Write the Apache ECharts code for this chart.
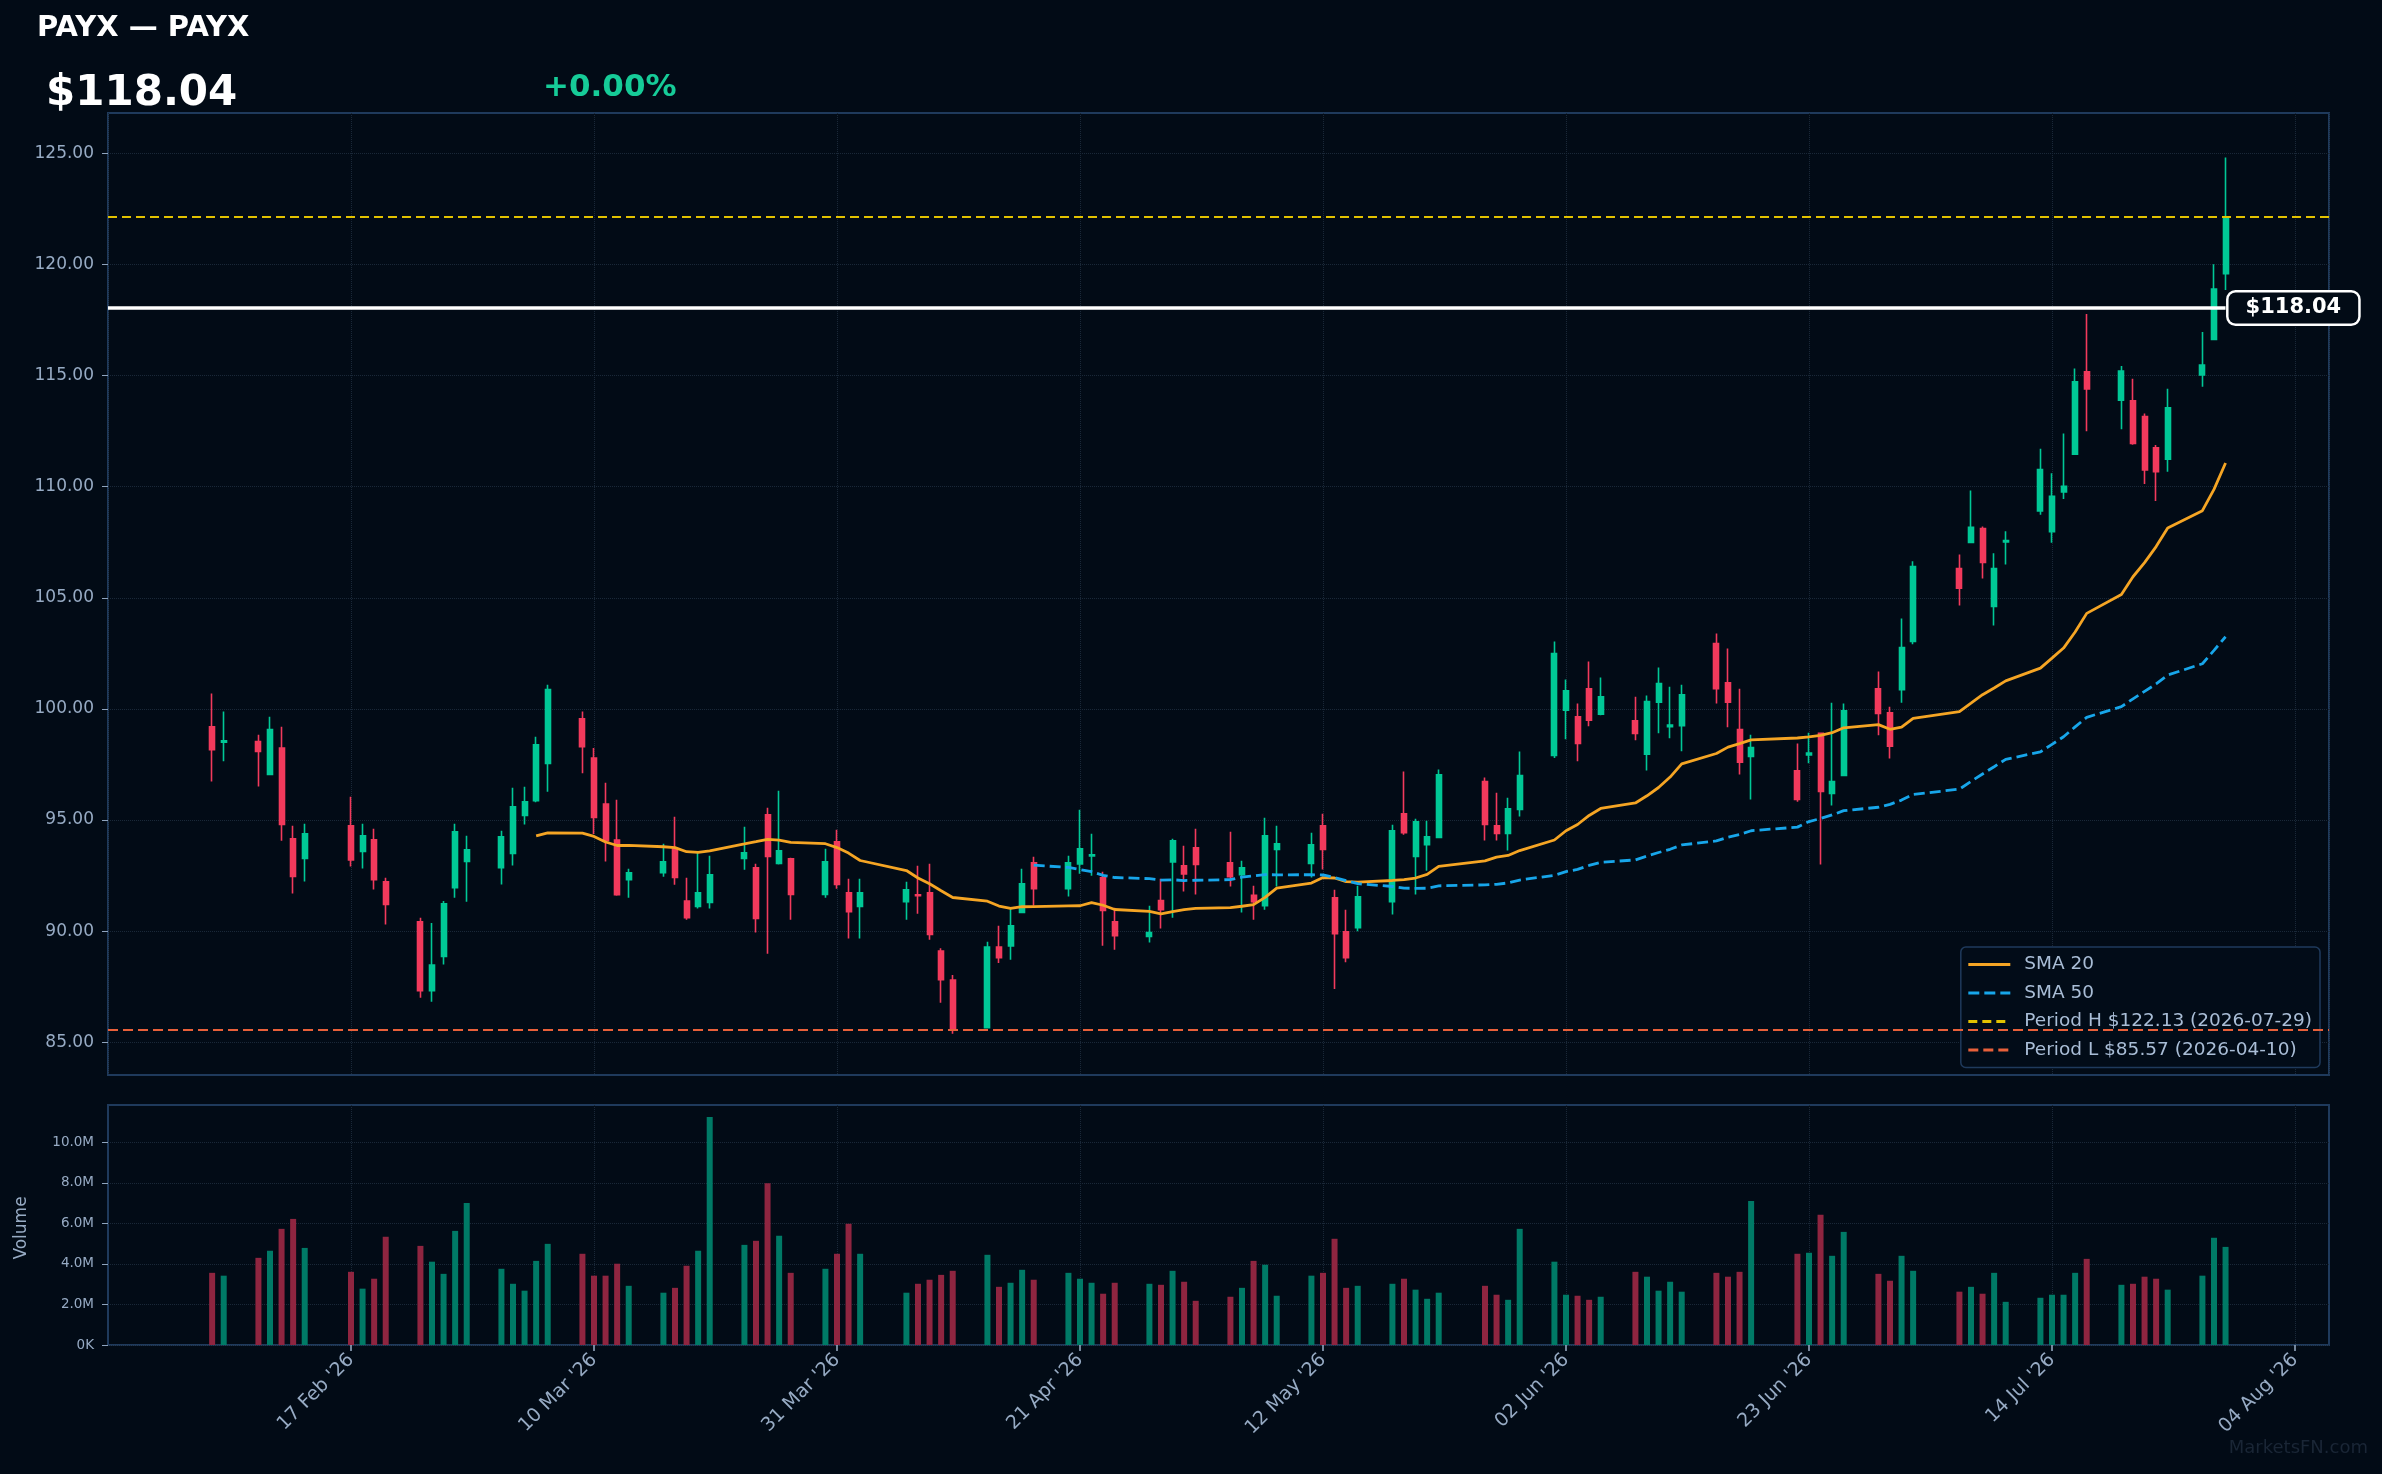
<!DOCTYPE html>
<html><head><meta charset="utf-8">
<script src="https://cdn.jsdelivr.net/npm/echarts@6/dist/echarts.min.js"></script>
<style>html,body{margin:0;padding:0;background:#020b16;} #c{width:2382px;height:1474px;}</style>
</head><body><div id="c"></div>
<script>
// ---------------- DATA ----------------
const ticker = 'PAYX';
const companyName = 'PAYX';
const lastPrice = 118.04;
const changeText = '+0.00%';
const dates = [
'2026-02-05','2026-02-06','2026-02-09','2026-02-10','2026-02-11','2026-02-12','2026-02-13','2026-02-17','2026-02-18','2026-02-19',
'2026-02-20','2026-02-23','2026-02-24','2026-02-25','2026-02-26','2026-02-27','2026-03-02','2026-03-03','2026-03-04','2026-03-05',
'2026-03-06','2026-03-09','2026-03-10','2026-03-11','2026-03-12','2026-03-13','2026-03-16','2026-03-17','2026-03-18','2026-03-19',
'2026-03-20','2026-03-23','2026-03-24','2026-03-25','2026-03-26','2026-03-27','2026-03-30','2026-03-31','2026-04-01','2026-04-02',
'2026-04-06','2026-04-07','2026-04-08','2026-04-09','2026-04-10','2026-04-13','2026-04-14','2026-04-15','2026-04-16','2026-04-17',
'2026-04-20','2026-04-21','2026-04-22','2026-04-23','2026-04-24','2026-04-27','2026-04-28','2026-04-29','2026-04-30','2026-05-01',
'2026-05-04','2026-05-05','2026-05-06','2026-05-07','2026-05-08','2026-05-11','2026-05-12','2026-05-13','2026-05-14','2026-05-15',
'2026-05-18','2026-05-19','2026-05-20','2026-05-21','2026-05-22','2026-05-26','2026-05-27','2026-05-28','2026-05-29','2026-06-01',
'2026-06-02','2026-06-03','2026-06-04','2026-06-05','2026-06-08','2026-06-09','2026-06-10','2026-06-11','2026-06-12','2026-06-15',
'2026-06-16','2026-06-17','2026-06-18','2026-06-22','2026-06-23','2026-06-24','2026-06-25','2026-06-26','2026-06-29','2026-06-30',
'2026-07-01','2026-07-02','2026-07-06','2026-07-07','2026-07-08','2026-07-09','2026-07-10','2026-07-13','2026-07-14','2026-07-15',
'2026-07-16','2026-07-17','2026-07-20','2026-07-21','2026-07-22','2026-07-23','2026-07-24','2026-07-27','2026-07-28','2026-07-29'];
const opens = [
99.20,98.50,98.53,97.05,98.24,94.16,93.27,94.74,93.59,94.11,
92.22,90.42,87.32,88.86,91.96,93.14,92.86,93.50,95.21,95.87,
97.55,99.56,97.79,95.72,94.10,92.32,92.63,93.71,91.36,91.11,
91.29,93.27,92.85,95.24,93.05,93.26,91.65,94.02,91.73,91.11,
91.33,91.64,91.73,89.11,87.80,85.66,89.29,89.34,90.84,93.08,
91.91,93.03,93.38,92.40,90.42,89.76,91.38,93.12,92.94,93.75,
93.08,92.54,91.62,91.15,93.68,93.05,94.74,91.50,89.97,90.16,
91.33,95.28,93.36,93.89,94.22,96.73,94.74,94.40,95.48,97.91,
99.94,99.65,100.91,99.76,99.47,97.96,100.30,99.20,99.25,102.94,
101.18,99.07,97.86,97.22,97.93,98.90,96.20,97.01,100.91,99.83,
100.87,103.03,106.32,107.49,108.12,104.61,107.51,108.91,107.97,109.76,
111.46,115.17,113.89,113.86,113.15,111.75,111.23,115.02,116.62,119.58];
const highs = [
100.69,99.88,98.84,99.65,99.20,94.74,94.83,96.05,94.83,94.61,
92.40,90.60,90.37,91.36,94.83,94.29,94.52,96.45,96.50,98.75,
101.09,99.88,98.24,96.68,95.91,92.81,93.93,95.15,92.40,93.53,
93.39,94.70,93.03,95.55,96.32,93.30,93.71,94.56,92.36,92.36,
92.22,92.94,93.03,89.23,88.03,89.52,90.24,91.06,92.81,93.35,
93.39,95.46,94.38,92.67,91.06,91.14,92.36,94.16,93.84,94.61,
94.47,93.17,92.04,95.10,94.74,94.43,95.28,91.86,90.96,92.04,
94.79,97.18,95.06,94.97,97.27,96.91,96.23,96.00,98.08,103.03,
101.32,100.24,102.13,101.41,100.55,100.60,101.86,101.00,101.09,103.39,
102.72,100.91,98.84,98.44,98.93,98.90,100.28,100.24,101.68,100.10,
104.07,106.64,106.95,109.83,108.21,107.00,107.99,111.71,110.60,112.39,
115.31,117.77,115.43,114.85,113.29,111.87,114.40,116.96,120.00,124.81];
const lows = [
96.73,97.64,96.51,97.05,94.07,91.69,92.23,92.91,92.82,91.87,
90.30,87.01,86.83,88.50,91.51,91.33,92.10,92.95,94.80,95.80,
96.27,97.10,94.37,93.14,91.59,91.50,92.45,92.09,90.52,91.02,
91.02,92.76,89.94,88.99,93.00,90.52,91.51,91.91,89.67,89.67,
90.52,90.79,89.62,86.78,85.39,85.66,88.57,88.71,90.84,91.14,
91.56,92.58,92.49,89.35,89.17,89.49,90.12,90.61,91.78,91.65,
92.01,90.84,90.52,90.97,92.01,92.42,92.78,87.40,88.60,90.00,
90.75,94.34,91.65,92.72,94.22,94.08,94.08,93.63,95.16,97.79,
98.63,97.64,99.22,99.72,98.59,97.23,98.90,98.68,98.09,100.24,
99.17,97.05,95.93,95.82,97.55,93.00,95.66,97.01,98.81,97.77,
100.28,102.91,104.65,107.49,105.87,103.75,106.50,108.73,107.48,109.44,
111.46,112.49,112.58,111.89,110.12,109.35,110.67,114.49,116.62,118.85];
const closes = [
98.17,98.56,98.09,99.07,94.80,92.46,94.38,93.21,94.29,92.32,
91.20,87.32,88.48,91.23,94.47,93.66,94.25,95.60,95.82,98.39,
100.87,98.30,95.12,94.07,91.64,92.63,93.12,92.42,90.61,91.73,
92.54,93.53,90.57,93.36,93.62,91.65,93.12,92.10,90.88,91.73,
91.86,91.60,89.85,87.82,85.57,89.29,88.81,90.24,92.13,91.91,
93.08,93.71,93.44,90.93,89.80,89.94,90.97,94.07,92.58,93.00,
92.45,92.85,91.33,94.29,93.93,93.89,93.68,89.89,88.81,91.55,
94.52,94.43,94.92,94.25,97.04,94.80,94.40,95.51,97.00,102.49,
100.82,98.45,99.49,100.55,98.90,100.33,101.14,99.27,100.64,100.91,
100.30,97.60,98.26,95.93,98.01,96.29,96.73,99.92,99.80,98.32,
102.76,106.41,105.43,108.17,106.59,106.32,107.57,110.77,109.57,110.01,
114.72,114.39,115.20,111.94,110.75,110.67,113.55,115.47,118.89,122.13];
const volumes = [
3560000,3420000,4300000,4650000,5730000,6220000,4790000,3610000,2780000,3270000,
5340000,4890000,4110000,3510000,5630000,7010000,3760000,3020000,2680000,4150000,
4990000,4500000,3420000,3420000,4010000,2920000,2580000,2820000,3910000,4650000,
11250000,4940000,5140000,7980000,5390000,3560000,3760000,4500000,5980000,4500000,
2580000,3020000,3220000,3460000,3660000,4450000,2870000,3070000,3710000,3220000,
3560000,3270000,3070000,2530000,3070000,3020000,2970000,3660000,3120000,2180000,
2380000,2820000,4150000,3960000,2430000,3420000,3560000,5240000,2820000,2920000,
3020000,3270000,2730000,2280000,2580000,2920000,2480000,2230000,5730000,4110000,
2480000,2430000,2230000,2380000,3610000,3370000,2680000,3120000,2630000,3560000,
3370000,3610000,7110000,4500000,4550000,6420000,4400000,5580000,3510000,3170000,
4400000,3660000,2630000,2870000,2530000,3560000,2130000,2330000,2480000,2480000,
3560000,4250000,2970000,3020000,3370000,3270000,2730000,3420000,5290000,4840000];
const xTickDates = ['2026-02-17','2026-03-10','2026-03-31','2026-04-21','2026-05-12','2026-06-02','2026-06-23','2026-07-14','2026-08-04'];
const priceTicks = [85,90,95,100,105,110,115,120,125];
const volumeTicks = [0,2000000,4000000,6000000,8000000,10000000];
const smaPeriods = [20, 50];

// ---------------- HELPERS ----------------
const DAY = 86400000;
const X0 = Date.UTC(2026, 0, 27);
const toX = d => (Date.parse(d + 'T00:00:00Z') - X0) / DAY;
const xs = dates.map(toX);
const MON = ['Jan','Feb','Mar','Apr','May','Jun','Jul','Aug','Sep','Oct','Nov','Dec'];
const fmtDate = v => { const d = new Date(X0 + Math.round(v) * DAY); return String(d.getUTCDate()).padStart(2,'0') + ' ' + MON[d.getUTCMonth()] + " '" + String(d.getUTCFullYear()).slice(2); };
const xTicks = xTickDates.map(toX);
const near = (arr, v) => arr.some(t => Math.abs(t - v) < 1e-6 * Math.max(1, Math.abs(t)));
function sma(n) { const out = []; for (let i = n - 1; i < closes.length; i++) { let s = 0; for (let j = i - n + 1; j <= i; j++) s += closes[j]; out.push([xs[i], s / n]); } return out; }
let hiI = 0, loI = 0;
closes.forEach((c, i) => { if (c > closes[hiI]) hiI = i; if (c < closes[loI]) loI = i; });
const hName = 'Period H $' + closes[hiI].toFixed(2) + ' (' + dates[hiI] + ')';
const lName = 'Period L $' + closes[loI].toFixed(2) + ' (' + dates[loI] + ')';

const UP = '#00c896', DN = '#f23a5c', VUP = '#007a66', VDN = '#8f2540';
const BG = '#020b16', BORDER = '#1f3a5c', GRIDC = '#1a2838', LBL = '#97abc4';
const FONT = 'DejaVu Sans';
const XMIN = 0, XMAX = 191.94;

const chart = echarts.init(document.getElementById('c'), null, {renderer: 'canvas'});
chart.setOption({
  animation: false,
  backgroundColor: BG,
  grid: [
    {left: 108, top: 113, width: 2221, height: 962, show: true, borderColor: BORDER, borderWidth: 2, backgroundColor: 'transparent'},
    {left: 108, top: 1105, width: 2221, height: 240, show: true, borderColor: BORDER, borderWidth: 2, backgroundColor: 'transparent'}
  ],
  xAxis: [
    {type: 'value', gridIndex: 0, min: XMIN, max: XMAX, interval: 21,
     axisLine: {show: false}, axisTick: {show: false}, axisLabel: {show: false},
     splitLine: {show: true, lineStyle: {color: GRIDC, type: 'dotted', width: 1}}},
    {type: 'value', gridIndex: 1, min: XMIN, max: XMAX, interval: 21,
     axisLine: {show: false},
     axisTick: {show: true, length: 6, customValues: xTicks, lineStyle: {color: '#9aaec6', width: 1.5}},
     axisLabel: {show: true, rotate: 45, margin: 12, color: LBL, fontSize: 19, fontFamily: FONT, customValues: xTicks,
       formatter: v => near(xTicks, v) ? fmtDate(v) : ''},
     splitLine: {show: true, lineStyle: {color: GRIDC, type: 'dotted', width: 1}}}
  ],
  yAxis: [
    {type: 'value', gridIndex: 0, min: 83.53, max: 126.81, splitNumber: 8, position: 'left',
     axisLine: {show: false},
     axisTick: {show: true, length: 6, customValues: priceTicks, lineStyle: {color: '#8fa4be'}},
     axisLabel: {color: LBL, fontSize: 17, fontFamily: FONT, margin: 14, customValues: priceTicks,
       formatter: v => near(priceTicks, v) ? v.toFixed(2) : ''},
     splitLine: {show: true, lineStyle: {color: GRIDC, type: 'dotted', width: 1}}},
    {type: 'value', gridIndex: 1, min: 0, max: 11840000, splitNumber: 6, position: 'left',
     axisLine: {show: false},
     axisTick: {show: true, length: 6, customValues: volumeTicks, lineStyle: {color: '#8fa4be'}},
     axisLabel: {color: LBL, fontSize: 13.5, fontFamily: FONT, margin: 14, customValues: volumeTicks,
       formatter: v => near(volumeTicks, v) ? (v === 0 ? '0K' : (v / 1e6).toFixed(1) + 'M') : ''},
     splitLine: {show: true, lineStyle: {color: GRIDC, type: 'dotted', width: 1}}}
  ],
  legend: {
    orient: 'vertical', right: 62, top: 947,
    data: ['SMA 20', 'SMA 50', hName, lName],
    itemWidth: 42, itemHeight: 14, itemGap: 9.5,
    padding: [8, 8, 8, 6],
    backgroundColor: '#020c18', borderColor: BORDER, borderWidth: 1.5, borderRadius: 5,
    textStyle: {color: '#a9bdd6', fontSize: 18.5, fontFamily: FONT, padding: [0, 0, 0, 9]},
    itemStyle: {opacity: 0},
    lineStyle: {width: 3},
    selectedMode: false
  },
  series: [
    {type: 'candlestick', name: ticker, xAxisIndex: 0, yAxisIndex: 0, z: 2,
     data: xs.map((x, i) => [x, opens[i], closes[i], lows[i], highs[i]]),
     barWidth: 5.5,
     itemStyle: {color: UP, color0: DN, borderColor: UP, borderColor0: DN, borderWidth: 1.6},
     markLine: {symbol: 'none', silent: true, animation: false, z: 6,
       lineStyle: {color: '#ffffff', width: 3.5, type: 'solid'},
       label: {show: true, position: 'end', distance: 3, formatter: '$' + lastPrice.toFixed(2),
         color: '#ffffff', fontWeight: 'bold', fontSize: 21, fontFamily: FONT,
         backgroundColor: BG, borderColor: '#ffffff', borderWidth: 2.5, borderRadius: 7, padding: [5, 17]},
       data: [[{coord: [XMIN, lastPrice]}, {coord: [xs[xs.length - 1], lastPrice]}]]}
    },
    {type: 'line', name: 'SMA 20', xAxisIndex: 0, yAxisIndex: 0, z: 4, data: sma(smaPeriods[0]),
     symbol: 'none', showSymbol: false, color: '#f5a524', lineStyle: {color: '#f5a524', width: 2.8}},
    {type: 'line', name: 'SMA 50', xAxisIndex: 0, yAxisIndex: 0, z: 4, data: sma(smaPeriods[1]),
     symbol: 'none', showSymbol: false, color: '#17a6ea', lineStyle: {color: '#17a6ea', width: 2.8, type: [11, 5]}},
    {type: 'line', name: hName, xAxisIndex: 0, yAxisIndex: 0, z: 3, data: [[xs[hiI], closes[hiI]]],
     symbol: 'none', showSymbol: false, color: '#e2c200', lineStyle: {color: '#e2c200', width: 2, type: [9, 5]},
     markLine: {symbol: 'none', silent: true, animation: false, label: {show: false},
       lineStyle: {color: '#e2c200', width: 2, type: [9, 5]}, data: [{yAxis: closes[hiI]}]}},
    {type: 'line', name: lName, xAxisIndex: 0, yAxisIndex: 0, z: 3, data: [[xs[loI], closes[loI]]],
     symbol: 'none', showSymbol: false, color: '#e8603a', lineStyle: {color: '#e8603a', width: 2, type: [10, 5]},
     markLine: {symbol: 'none', silent: true, animation: false, label: {show: false},
       lineStyle: {color: '#e8603a', width: 2, type: [10, 5]}, data: [{yAxis: closes[loI]}]}},
    {type: 'bar', name: 'Volume', xAxisIndex: 1, yAxisIndex: 1, barWidth: 6,
     data: xs.map((x, i) => ({value: [x, volumes[i]], itemStyle: {color: closes[i] >= opens[i] ? VUP : VDN}}))}
  ],
  graphic: [
    {type: 'text', x: 37, y: 28, style: {text: ticker + ' — ' + companyName, fill: '#ffffff', font: 'bold 29px "DejaVu Sans"', verticalAlign: 'middle'}},
    {type: 'text', x: 46, y: 94, style: {text: '$' + lastPrice.toFixed(2), fill: '#ffffff', font: 'bold 42px "DejaVu Sans"', verticalAlign: 'middle'}},
    {type: 'text', x: 543, y: 88, style: {text: changeText, fill: '#16cc98', font: 'bold 31px "DejaVu Sans"', verticalAlign: 'middle'}},
    {type: 'text', x: 22, y: 1228, rotation: Math.PI / 2, style: {text: 'Volume', fill: LBL, font: '17px "DejaVu Sans"', align: 'center', verticalAlign: 'middle'}},
    {type: 'text', x: 2368, y: 1448, style: {text: 'MarketsFN.com', fill: '#1a2636', font: '18px "DejaVu Sans"', align: 'right', verticalAlign: 'middle'}}
  ]
});
</script>
</body></html>
